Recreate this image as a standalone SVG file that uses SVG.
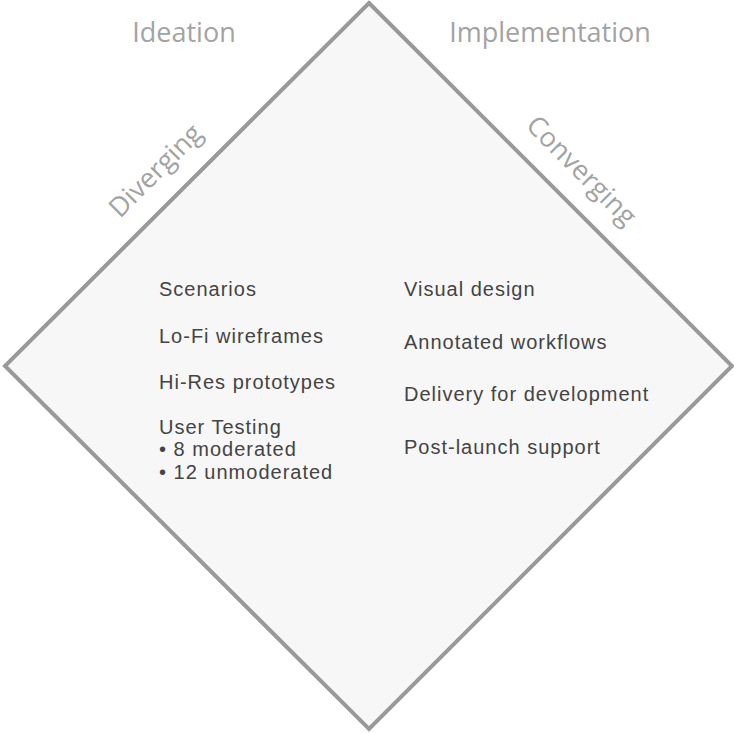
<svg xmlns="http://www.w3.org/2000/svg" width="734" height="734" viewBox="0 0 734 734">
<style>
.diamond{fill:#f7f7f7;stroke:#999999;stroke-width:4;stroke-linejoin:miter}
.phase{font-family:"Open Sans","Liberation Sans",sans-serif;font-size:27px;fill:#a3a3a3}
.item{font-family:"Liberation Sans",Arial,sans-serif;font-size:20px;letter-spacing:1px;fill:#444444}
</style>
<rect width="734" height="734" fill="#ffffff"/>
<g id="diamond">
<polygon class="diamond" points="369,3 732,366 369,729 5,366"/>
</g>
<g id="labels">
<text class="phase" x="184" y="42" text-anchor="middle">Ideation</text>
<text class="phase" x="550" y="42" text-anchor="middle">Implementation</text>
<text class="phase" x="162" y="177" text-anchor="middle" transform="rotate(-45 162 177)">Diverging</text>
<text class="phase" x="575" y="177" text-anchor="middle" transform="rotate(45 575 177)">Converging</text>
</g>
<g id="ideation-items">
<text class="item" x="159" y="296">Scenarios</text>
<text class="item" x="159" y="342.5">Lo-Fi wireframes</text>
<text class="item" x="159" y="388.5">Hi-Res prototypes</text>
<text class="item" x="159" y="433.5">User Testing</text>
<text class="item" x="159" y="456">• 8 moderated</text>
<text class="item" x="159" y="478.5">• 12 unmoderated</text>
</g>
<g id="implementation-items">
<text class="item" x="404" y="296">Visual design</text>
<text class="item" x="404" y="348.5">Annotated workflows</text>
<text class="item" x="404" y="401">Delivery for development</text>
<text class="item" x="404" y="453.5">Post-launch support</text>
</g>
</svg>
